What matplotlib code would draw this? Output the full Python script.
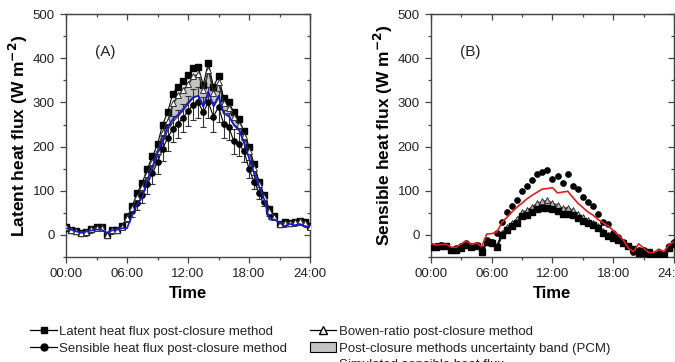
import numpy as np
import matplotlib
matplotlib.use("Agg")
import matplotlib.pyplot as plt
from matplotlib.lines import Line2D
from matplotlib.patches import Patch
from matplotlib.ticker import MultipleLocator, FuncFormatter, NullFormatter

plt.rcParams["font.family"] = ["Liberation Sans", "DejaVu Sans"]

# ── data: half-hourly, 00:00 .. 24:00 ───────────────────────────────────
hours = np.arange(0, 24.01, 0.5)

# (A) latent heat flux, W m-2
le_post_le = [18, 12, 8, 5, 7, 14, 17, 17, 0, 12, 12, 20, 40, 65, 95, 118, 150,
              178, 205, 250, 278, 320, 336, 348, 362, 378, 380, 340, 390, 335,
              360, 310, 300, 278, 262, 235, 200, 160, 120, 90, 58, 42, 25, 30,
              28, 30, 32, 30, 20]
le_post_h = [15, 12, 8, 5, 5, 12, 15, 15, 0, 10, 12, 18, 40, 55, 72, 90, 115,
             140, 165, 195, 220, 240, 252, 265, 280, 295, 300, 278, 300, 268,
             290, 252, 245, 212, 205, 190, 150, 120, 95, 75, 50, 40, 25, 25,
             28, 28, 30, 25, 18]
le_bowen = [17, 12, 8, 5, 6, 13, 16, 16, 0, 11, 12, 19, 38, 60, 85, 108, 138,
            165, 190, 232, 258, 298, 316, 328, 342, 360, 364, 328, 374, 322,
            346, 298, 288, 266, 250, 225, 190, 152, 115, 85, 55, 40, 25, 28,
            28, 29, 31, 28, 19]
le_band_lo = [15, 12, 8, 5, 5, 12, 15, 15, 0, 10, 12, 16, 38, 58, 78, 95, 125,
              152, 182, 212, 240, 258, 270, 283, 298, 312, 316, 294, 322, 292,
              312, 276, 268, 248, 236, 206, 170, 136, 106, 78, 40, 38, 25, 24,
              26, 26, 28, 25, 18]
le_err = [0, 0, 0, 0, 0, 0, 0, 0, 0, 0, 0, 4, 10, 14, 16, 18, 22, 24, 26, 28,
          30, 30, 32, 32, 34, 35, 35, 34, 36, 34, 35, 32, 30, 28, 26, 24, 20,
          16, 14, 10, 6, 4, 0, 0, 0, 0, 0, 0, 0]
le_sim = [15, 12, 8, 5, 8, 10, 12, 12, 5, 10, 12, 15, 15, 45, 70, 85, 125,
          155, 185, 215, 245, 262, 272, 285, 300, 312, 315, 290, 325, 292,
          315, 275, 270, 250, 240, 210, 175, 140, 110, 80, 35, 35, 28, 20,
          25, 22, 25, 20, 18]

# (B) sensible heat flux, W m-2
h_post_le = [-28, -27, -26, -25, -35, -33, -30, -22, -28, -25, -38, -17, -18,
             -28, 0, 12, 20, 28, 42, 45, 52, 58, 60, 62, 58, 55, 48, 48, 45,
             38, 32, 26, 22, 15, 5, -3, -8, -12, -18, -25, -32, -42, -40, -38,
             -45, -48, -44, -30, -20]
h_post_h = [-25, -25, -23, -25, -33, -30, -25, -18, -25, -22, -32, -12, -15, 5,
            30, 52, 65, 79, 100, 110, 125, 139, 142, 146, 126, 134, 117, 137,
            110, 104, 85, 75, 66, 47, 30, 24, 5, -5, -15, -25, -38, -35, -35,
            -45, -45, -40, -45, -25, -15]
h_bowen = [-26, -26, -24, -24, -33, -31, -28, -20, -26, -23, -36, -15, -16,
           -24, 5, 18, 27, 36, 52, 56, 64, 72, 76, 78, 72, 68, 60, 62, 56, 48,
           40, 33, 28, 20, 9, 0, -6, -11, -17, -24, -32, -41, -39, -38, -44,
           -46, -43, -29, -19]
h_sim = [-20, -23, -22, -21, -28, -28, -20, -14, -22, -18, -27, 2, 3, 6, 28,
         40, 52, 63, 72, 82, 90, 97, 104, 105, 107, 95, 97, 99, 85, 72, 62, 52,
         45, 35, 28, 20, 10, 0, -12, -30, -38, -20, -30, -40, -40, -32, -38,
         -22, -15]

# ── figure ──────────────────────────────────────────────────────────────
fig = plt.figure(figsize=(6.75, 3.62), dpi=100)
axA = fig.add_axes([0.0978, 0.290, 0.3615, 0.671])
axB = fig.add_axes([0.6385, 0.290, 0.3600, 0.671])

TXT = "#222222"
SP = "#444444"
BAND = "#c4c4c4"
ms = 3.8


def set_locators(axis, major, minor):
    axis.set_major_locator(MultipleLocator(major))
    axis.set_minor_locator(MultipleLocator(minor))


def style(ax, ylabel, tag):
    ax.set_xlim(0, 24)
    ax.set_ylim(-50, 500)
    set_locators(ax.xaxis, 6, 3)
    set_locators(ax.yaxis, 100, 50)
    ax.xaxis.set_major_formatter(FuncFormatter(lambda v, p: f"{int(v):02d}:00"))
    ax.yaxis.set_major_formatter(FuncFormatter(lambda v, p: f"{int(v)}" if v >= 0 else ""))
    ax.tick_params(which="both", direction="out", colors=SP, labelcolor=TXT,
                   labelsize=9.5, width=0.9)
    ax.tick_params(which="major", length=4.5)
    ax.tick_params(which="minor", length=2.5)
    for sp in ax.spines.values():
        sp.set_color(SP)
        sp.set_linewidth(1.0)
    # mirrored ticks on top/right point inwards
    sx = ax.secondary_xaxis("top")
    sy = ax.secondary_yaxis("right")
    set_locators(sx.xaxis, 6, 3)
    set_locators(sy.yaxis, 100, 50)
    sx.xaxis.set_major_formatter(NullFormatter())
    sy.yaxis.set_major_formatter(NullFormatter())
    for sec in (sx, sy):
        sec.tick_params(which="both", direction="in", colors=SP, width=0.9)
        sec.tick_params(which="major", length=4.5)
        sec.tick_params(which="minor", length=2.5)
        for sp in sec.spines.values():
            sp.set_color(SP)
    ax.set_xlabel("Time", fontsize=12, fontweight="bold", color="black", labelpad=4)
    ax.set_ylabel(ylabel, fontsize=12.5, fontweight="bold", color="black", labelpad=2)
    ax.text(2.9, 415, tag, fontsize=11, color=TXT, va="center", ha="left")


# panel A
axA.fill_between(hours, le_band_lo, le_bowen, color=BAND, lw=0.8,
                 edgecolor="#333333", zorder=1)
axA.errorbar(hours, le_post_h, yerr=le_err, fmt="none", ecolor="#333333",
             elinewidth=0.8, capsize=2, capthick=0.8, zorder=2)
axA.plot(hours, le_post_le, color="black", lw=0.8, marker="s", ms=ms,
         mfc="black", mec="black", zorder=3)
axA.plot(hours, le_bowen, color="#333333", lw=0.8, marker="^", ms=ms,
         mfc="white", mec="#333333", mew=0.7, zorder=4)
axA.plot(hours, le_post_h, color="black", lw=0.8, marker="o", ms=ms,
         mfc="black", mec="black", zorder=3)
axA.plot(hours, le_sim, color="#1a1ad0", lw=1.2, zorder=5)
style(axA, "Latent heat flux (W m$^{\\mathbf{-2}}$)", "(A)")

# panel B
axB.fill_between(hours, h_post_le, h_bowen, color=BAND, lw=0.8,
                 edgecolor="#333333", zorder=1)
axB.plot(hours, h_bowen, color="#333333", lw=0.8, marker="^", ms=ms,
         mfc="#bbbbbb", mec="#333333", mew=0.7, zorder=3)
axB.plot(hours, h_post_le, color="black", lw=0.8, marker="s", ms=ms,
         mfc="black", mec="black", zorder=4)
axB.plot(hours, h_post_h, ls="none", marker="o", ms=ms, mfc="black",
         mec="black", zorder=4)
axB.plot(hours, h_sim, color="#e02020", lw=1.2, zorder=5)
style(axB, "Sensible heat flux (W m$^{\\mathbf{-2}}$)", "(B)")

# ── legends ─────────────────────────────────────────────────────────────
left_handles = [
    Line2D([], [], color="black", lw=0.9, marker="s", ms=5, mfc="black"),
    Line2D([], [], color="black", lw=0.9, marker="o", ms=5, mfc="black"),
]
left_labels = ["Latent heat flux post-closure method",
               "Sensible heat flux post-closure method"]
leg_kw = dict(loc="upper left", frameon=False, fontsize=9.5,
              handlelength=2.0, handletextpad=0.2, labelspacing=0.35,
              borderpad=0, borderaxespad=0)
leg1 = fig.legend(left_handles, left_labels,
                  bbox_to_anchor=(0.045, 0.101), **leg_kw)

right_handles = [
    Line2D([], [], color="black", lw=0.9, marker="^", ms=6, mfc="white", mec="black"),
    Patch(facecolor=BAND, edgecolor="black", lw=0.8),
    Line2D([], [], color="#e02020", lw=1.2),
]
right_labels = ["Bowen-ratio post-closure method",
                "Post-closure methods uncertainty band (PCM)",
                "Simulated sensible heat flux"]
leg2 = fig.legend(right_handles, right_labels,
                  bbox_to_anchor=(0.459, 0.101), **leg_kw)
for leg in (leg1, leg2):
    for t in leg.get_texts():
        t.set_color(TXT)

fig.savefig("out.png", dpi=100)
